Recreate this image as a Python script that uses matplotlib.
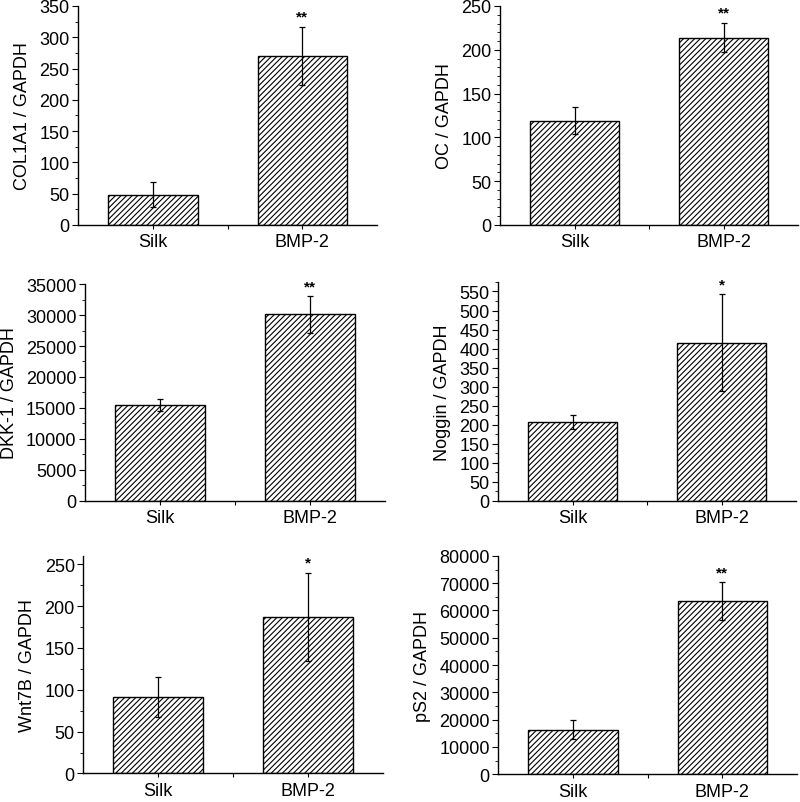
import numpy as np
import matplotlib
matplotlib.use('Agg')
from matplotlib import pyplot as plt
from matplotlib.ticker import MultipleLocator, FixedLocator

plt.rcParams['font.family'] = ['Liberation Sans', 'DejaVu Sans']
plt.rcParams['hatch.linewidth'] = 0.8

groups = ['Silk', 'BMP-2']

col1a1_mean = [48, 270]
col1a1_err = [20, 47]
oc_mean = [119, 214]
oc_err = [15.5, 17]
dkk1_mean = [15500, 30100]
dkk1_err = [1000, 3000]
noggin_mean = [207, 416]
noggin_err = [18, 127]
wnt7b_mean = [91.5, 187]
wnt7b_err = [23.5, 53]
ps2_mean = [16300, 63400]
ps2_err = [3550, 7000]

stars = {
    'COL1A1': ['', '**'],
    'OC': ['', '**'],
    'DKK-1': ['', '**'],
    'Noggin': ['', '*'],
    'Wnt7B': ['', '*'],
    'pS2': ['', '**'],
}

# name, mean, err, ylim top, major step, minor step, axes rect
panels = [
    ('COL1A1', col1a1_mean, col1a1_err, 350, 50, 25, [0.0975, 0.7186, 0.374, 0.2727]),
    ('OC', oc_mean, oc_err, 250, 50, 10, [0.625, 0.7186, 0.3725, 0.2727]),
    ('DKK-1', dkk1_mean, dkk1_err, 35000, 5000, 2500, [0.106, 0.375, 0.375, 0.270]),
    ('Noggin', noggin_mean, noggin_err, 575, 50, 25, [0.6225, 0.375, 0.3725, 0.2726]),
    ('Wnt7B', wnt7b_mean, wnt7b_err, 260, 50, 25, [0.104, 0.0355, 0.375, 0.271]),
    ('pS2', ps2_mean, ps2_err, 80000, 10000, 5000, [0.6225, 0.0345, 0.374, 0.272]),
]

fig = plt.figure(figsize=(8, 8.03), dpi=100)
x = np.arange(len(groups))

for name, mean, err, top, major, minor, rect in panels:
    ax = fig.add_axes(rect)
    ax.bar(x, mean, width=0.6, color='white', edgecolor='black',
           hatch='//////', linewidth=1.0, zorder=2)
    ax.errorbar(x, mean, yerr=err, fmt='none', ecolor='black',
                elinewidth=0.9, capsize=2.5, capthick=0.9, zorder=3)
    for xi, m, e, s in zip(x, mean, err, stars[name]):
        if s:
            ax.annotate(s, (xi, m + e), xytext=(0, 2), textcoords='offset points',
                        ha='center', va='bottom', fontsize=11, fontweight='bold')

    ax.set_xlim(-0.5, 1.5)
    ax.set_ylim(0, top)
    ax.spines['top'].set_visible(False)
    ax.spines['right'].set_visible(False)
    ax.spines['left'].set_linewidth(1.0)
    ax.spines['bottom'].set_linewidth(1.0)

    ax.set_xticks(x)
    ax.set_xticklabels(groups, fontsize=13)
    ax.xaxis.set_minor_locator(FixedLocator([0.5]))
    ax.yaxis.set_major_locator(MultipleLocator(major))
    ax.yaxis.set_minor_locator(MultipleLocator(minor))
    ax.tick_params(axis='y', which='major', labelsize=13, length=4, width=0.8, pad=2)
    ax.tick_params(axis='y', which='minor', length=2.5, width=0.6)
    ax.tick_params(axis='x', which='major', length=3, width=0.8, pad=3)
    ax.tick_params(axis='x', which='minor', length=3, width=0.8)
    ax.set_ylabel(name + ' / GAPDH', fontsize=13, labelpad=6)

plt.savefig('out.png', dpi=100)
